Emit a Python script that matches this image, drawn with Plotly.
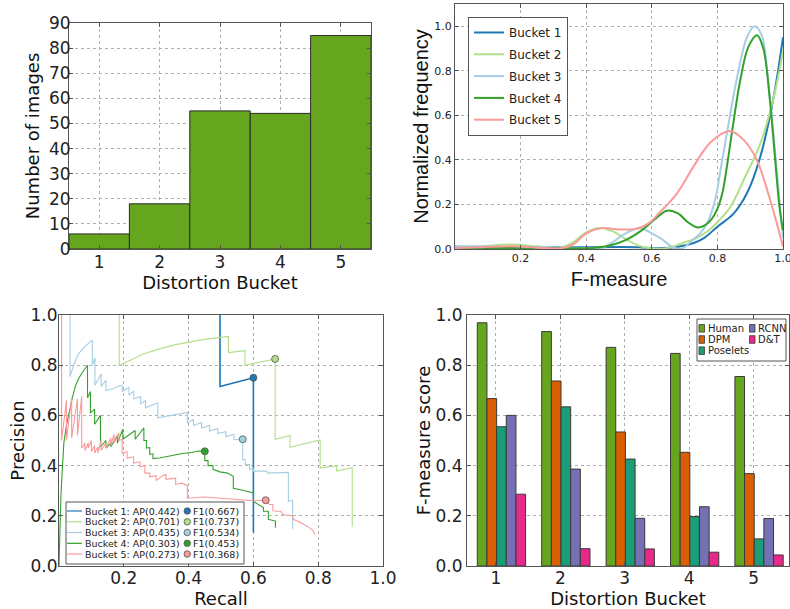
import plotly.graph_objects as go

W, H = 790, 609
def fx(p):
    return p / W
def fy(p):
    return 1 - p / H

# ---------------- data ----------------
# Panel 1: histogram of images per distortion bucket
buckets = [1, 2, 3, 4, 5]
bucket_labels = ["1", "2", "3", "4", "5"]
num_images = [6, 18, 55, 54, 85]

# Panel 2: normalized frequency of F-measure per bucket
kde_b1_x = [0.0, 0.1, 0.2, 0.3, 0.4, 0.5, 0.56, 0.62, 0.68, 0.73, 0.76, 0.80, 0.85, 0.89, 0.93, 0.97, 1.0]
kde_b1_y = [0.010, 0.009, 0.008, 0.008, 0.008, 0.009, 0.008, 0.003, 0.010, 0.028, 0.050, 0.100, 0.160, 0.250, 0.410, 0.670, 0.950]
kde_b2_x = [0.0, 0.08, 0.165, 0.25, 0.32, 0.36, 0.40, 0.44, 0.48, 0.52, 0.56, 0.60, 0.65, 0.70, 0.73, 0.77, 0.80, 0.84, 0.88, 0.93, 0.97, 1.0]
kde_b2_y = [0.010, 0.012, 0.020, 0.012, 0.005, 0.030, 0.075, 0.094, 0.080, 0.045, 0.015, 0.002, 0.005, 0.030, 0.045, 0.080, 0.120, 0.190, 0.310, 0.470, 0.670, 0.890]
kde_b3_x = [0.0, 0.2, 0.4, 0.45, 0.48, 0.52, 0.565, 0.60, 0.63, 0.66, 0.69, 0.72, 0.75, 0.77, 0.793, 0.81, 0.829, 0.86, 0.89, 0.913, 0.935, 0.955, 0.975, 0.99, 1.0]
kde_b3_y = [0.012, 0.010, 0.005, 0.005, 0.030, 0.070, 0.093, 0.070, 0.045, 0.012, 0.000, 0.035, 0.075, 0.120, 0.220, 0.360, 0.520, 0.770, 0.950, 1.000, 0.960, 0.750, 0.450, 0.200, 0.050]
kde_b4_x = [0.0, 0.2, 0.42, 0.47, 0.52, 0.57, 0.61, 0.646, 0.68, 0.71, 0.739, 0.76, 0.78, 0.80, 0.815, 0.83, 0.845, 0.87, 0.895, 0.921, 0.94, 0.96, 0.975, 0.99, 1.0]
kde_b4_y = [0.005, 0.005, 0.005, 0.015, 0.040, 0.085, 0.135, 0.172, 0.160, 0.120, 0.097, 0.105, 0.130, 0.180, 0.250, 0.380, 0.530, 0.760, 0.910, 0.960, 0.900, 0.670, 0.420, 0.180, 0.085]
kde_b5_x = [0.0, 0.08, 0.17, 0.25, 0.32, 0.36, 0.40, 0.448, 0.50, 0.55, 0.59, 0.626, 0.677, 0.727, 0.78, 0.837, 0.88, 0.92, 0.961, 1.0]
kde_b5_y = [0.005, 0.008, 0.012, 0.006, 0.003, 0.020, 0.070, 0.094, 0.088, 0.090, 0.115, 0.167, 0.250, 0.370, 0.480, 0.530, 0.490, 0.400, 0.220, 0.010]

# Panel 3: precision / recall per bucket
pr_b1_recall = [0.497, 0.497, 0.60, 0.60]
pr_b1_precision = [1.0, 0.715, 0.75, 0.133]
pr_b2_recall = [0.186, 0.186, 0.22, 0.26, 0.31, 0.36, 0.41, 0.46, 0.523, 0.523, 0.574, 0.574, 0.667, 0.667, 0.713, 0.713, 0.806, 0.806, 0.857, 0.857, 0.905, 0.905]
pr_b2_precision = [1.0, 0.80, 0.82, 0.845, 0.865, 0.882, 0.894, 0.905, 0.915, 0.85, 0.858, 0.80, 0.825, 0.505, 0.52, 0.473, 0.502, 0.39, 0.40, 0.378, 0.392, 0.157]
pr_b3_recall = [0.034, 0.034, 0.045, 0.06, 0.08, 0.103, 0.103, 0.111, 0.111, 0.123, 0.13, 0.13, 0.145, 0.145, 0.165, 0.18, 0.195,
                0.195, 0.216, 0.216, 0.231, 0.231, 0.252, 0.252, 0.267, 0.267, 0.298, 0.305, 0.305, 0.34, 0.37, 0.396,
                0.396, 0.415, 0.415, 0.44, 0.44, 0.465, 0.465, 0.49, 0.49, 0.515, 0.515, 0.54, 0.54, 0.567,
                0.567, 0.575, 0.575, 0.588, 0.588, 0.60, 0.60, 0.64, 0.645, 0.708, 0.708, 0.721, 0.721]
pr_b3_precision = [1.0, 0.755, 0.80, 0.845, 0.875, 0.90, 0.80, 0.83, 0.72, 0.745, 0.765, 0.715, 0.74, 0.70, 0.705, 0.715, 0.72,
                   0.695, 0.712, 0.68, 0.698, 0.665, 0.675, 0.645, 0.66, 0.63, 0.645, 0.65, 0.59, 0.598, 0.606, 0.612,
                   0.57, 0.585, 0.56, 0.572, 0.55, 0.56, 0.538, 0.548, 0.528, 0.535, 0.515, 0.525, 0.503, 0.505,
                   0.423, 0.425, 0.403, 0.405, 0.385, 0.388, 0.378, 0.378, 0.37, 0.373, 0.258, 0.262, 0.145]
pr_b4_recall = [0.0, 0.003, 0.006, 0.01, 0.015, 0.023, 0.031, 0.041, 0.051, 0.062, 0.072, 0.088,
                0.088, 0.097, 0.097, 0.11, 0.11, 0.128, 0.128, 0.145, 0.145, 0.16, 0.16, 0.18, 0.18, 0.197, 0.197,
                0.215, 0.235, 0.235, 0.262, 0.262, 0.27, 0.27, 0.28, 0.28, 0.29, 0.29, 0.31, 0.35, 0.38, 0.41, 0.43, 0.45,
                0.45, 0.46, 0.46, 0.475, 0.475, 0.497, 0.52, 0.538, 0.538, 0.574, 0.60, 0.60, 0.631, 0.631, 0.646, 0.646, 0.668, 0.668]
pr_b4_precision = [0.0, 0.15, 0.28, 0.38, 0.49, 0.56, 0.613, 0.67, 0.718, 0.75, 0.771, 0.80,
                   0.67, 0.695, 0.61, 0.625, 0.565, 0.60, 0.475, 0.50, 0.47, 0.49, 0.475, 0.52, 0.49, 0.545, 0.505,
                   0.52, 0.54, 0.505, 0.55, 0.50, 0.50, 0.47, 0.472, 0.445, 0.447, 0.428, 0.43, 0.44, 0.448, 0.452, 0.458, 0.457,
                   0.42, 0.42, 0.40, 0.40, 0.385, 0.375, 0.37, 0.357, 0.31, 0.30, 0.291, 0.257, 0.233, 0.218, 0.218, 0.186, 0.179, 0.152]
pr_b5_recall = [0.008, 0.008, 0.023, 0.023, 0.039, 0.039, 0.057, 0.057, 0.07, 0.07, 0.08, 0.08, 0.09, 0.09, 0.10, 0.10,
                0.11, 0.11, 0.12, 0.12, 0.13, 0.13, 0.145, 0.145, 0.16, 0.16, 0.17, 0.17, 0.185, 0.185, 0.195, 0.195,
                0.21, 0.21, 0.23, 0.23, 0.25, 0.25, 0.265, 0.265, 0.28, 0.28, 0.30, 0.30, 0.32, 0.33, 0.33, 0.36, 0.36,
                0.38, 0.396, 0.396, 0.45, 0.50, 0.55, 0.60, 0.638, 0.65, 0.66, 0.66, 0.685, 0.69, 0.72, 0.725, 0.75, 0.77, 0.785, 0.79]
pr_b5_precision = [1.0, 0.50, 0.66, 0.50, 0.67, 0.51, 0.665, 0.52, 0.675, 0.47, 0.49, 0.46, 0.49, 0.47, 0.50, 0.455,
                   0.48, 0.45, 0.475, 0.45, 0.50, 0.46, 0.49, 0.47, 0.51, 0.48, 0.525, 0.49, 0.53, 0.50, 0.505, 0.45,
                   0.455, 0.43, 0.435, 0.41, 0.415, 0.395, 0.40, 0.37, 0.37, 0.355, 0.36, 0.34, 0.36, 0.365, 0.345, 0.35, 0.325,
                   0.33, 0.32, 0.27, 0.275, 0.27, 0.265, 0.26, 0.262, 0.245, 0.245, 0.22, 0.217, 0.205, 0.20, 0.185, 0.17, 0.155, 0.14, 0.125]
f1_recall = [0.60, 0.667, 0.567, 0.45, 0.638]
f1_precision = [0.75, 0.825, 0.505, 0.457, 0.262]
ap_values = ["0.442", "0.701", "0.435", "0.303", "0.273"]
f1_values = ["0.667", "0.737", "0.534", "0.453", "0.368"]

# Panel 4: F-measure score per method and bucket
methods = ["Human", "DPM", "Poselets", "RCNN", "D&T"]
score_human = [0.969, 0.934, 0.871, 0.847, 0.755]
score_dpm = [0.667, 0.737, 0.534, 0.453, 0.368]
score_poselets = [0.555, 0.634, 0.426, 0.197, 0.108]
score_rcnn = [0.600, 0.386, 0.190, 0.236, 0.189]
score_dt = [0.286, 0.069, 0.068, 0.055, 0.044]

# ---------------- styles ----------------
FONT = "DejaVu Sans"
ARIAL = "Liberation Sans"
FRAME = "#555555"
GRID = "#b0b0b0"
bucket_colors = ["#1f78b4", "#b2df8a", "#a6cee3", "#33a02c", "#fb9a99"]
method_colors = ["#66a61e", "#d95f02", "#1b9e77", "#7570b3", "#e7298a"]

fig = go.Figure()

# Panel 1
fig.add_trace(go.Bar(x=buckets, y=num_images, width=1.0, marker=dict(color="#66a61e", line=dict(color="#2a2a2a", width=1)),
                     showlegend=False, xaxis="x", yaxis="y"))

# Panel 2
kde_xs = [kde_b1_x, kde_b2_x, kde_b3_x, kde_b4_x, kde_b5_x]
kde_ys = [kde_b1_y, kde_b2_y, kde_b3_y, kde_b4_y, kde_b5_y]
for i in range(5):
    fig.add_trace(go.Scatter(x=kde_xs[i], y=kde_ys[i], mode="lines", name="Bucket %d" % (i + 1),
                             line=dict(color=bucket_colors[i], width=2, shape="spline", smoothing=1.0),
                             legendgroup="g%d" % i, xaxis="x2", yaxis="y2", cliponaxis=True))

# Panel 3
pr_rs = [pr_b1_recall, pr_b2_recall, pr_b3_recall, pr_b4_recall, pr_b5_recall]
pr_ps = [pr_b1_precision, pr_b2_precision, pr_b3_precision, pr_b4_precision, pr_b5_precision]
for i in range(5):
    fig.add_trace(go.Scatter(x=pr_rs[i], y=pr_ps[i], mode="lines", showlegend=False,
                             line=dict(color=bucket_colors[i], width=1.6 if i == 0 else 1.1),
                             xaxis="x3", yaxis="y3"))
for i in range(5):
    fig.add_trace(go.Scatter(x=[f1_recall[i]], y=[f1_precision[i]], mode="markers", showlegend=False,
                             marker=dict(color=bucket_colors[i], size=7, line=dict(color="#555555", width=0.8)),
                             xaxis="x3", yaxis="y3"))

# Panel 4
scores = [score_human, score_dpm, score_poselets, score_rcnn, score_dt]
for k in range(5):
    fig.add_trace(go.Bar(x=buckets, y=scores[k], width=0.15, offset=-0.29 + 0.15 * k, name=methods[k],
                         marker=dict(color=method_colors[k], line=dict(color="#3a3a3a", width=1)),
                         showlegend=False, xaxis="x4", yaxis="y4"))

def axis(domain, anchor, rng, tickvals, ticktext, size, title, tfont, tsize, standoff, lstand):
    return dict(domain=domain, anchor=anchor, range=rng, tickvals=tickvals, ticktext=ticktext,
                tickfont=dict(family=FONT, size=size, color="#222"), ticklabelstandoff=lstand,
                ticklabeloverflow="allow",
                title=dict(text=title, font=dict(family=tfont, size=tsize, color="#111"), standoff=standoff),
                showline=True, mirror="ticks", linecolor=FRAME, linewidth=1,
                ticks="inside", ticklen=4, tickcolor=FRAME,
                showgrid=True, gridcolor=GRID, griddash="dot", gridwidth=1,
                zeroline=False, automargin=False, fixedrange=True)

p1x = [fx(69), fx(371)]; p1y = [fy(249), fy(23)]
p2x = [fx(455), fx(783)]; p2y = [fy(249), fy(4)]
p3x = [fx(59), fx(383)]; p3y = [fy(566), fy(315)]
p4x = [fx(467), fx(789)]; p4y = [fy(566), fy(315)]

dec = [0.0, 0.2, 0.4, 0.6, 0.8, 1.0]
dec_t = ["0.0", "0.2", "0.4", "0.6", "0.8", "1.0"]
xdec = [0.2, 0.4, 0.6, 0.8, 1.0]
xdec_t = ["0.2", "0.4", "0.6", "0.8", "1.0"]
yt1 = list(range(0, 100, 10))

fig.update_layout(
    width=W, height=H, margin=dict(l=0, r=0, t=0, b=0),
    paper_bgcolor="white", plot_bgcolor="white", barmode="overlay",
    font=dict(family=FONT, color="#222"),
    xaxis=axis(p1x, "y", [0.5, 5.5], buckets, bucket_labels, 17, "Distortion Bucket", FONT, 18, 1, -2),
    yaxis=axis(p1y, "x", [0, 90], yt1, [str(v) for v in yt1], 17, "Number of images", FONT, 18, 4, -6),
    xaxis2=axis(p2x, "y2", [0, 1], xdec, xdec_t, 11, "F-measure", ARIAL, 20, 7, -1),
    yaxis2=axis(p2y, "x2", [0, 1.1], dec, dec_t, 11, "Normalized frequency", ARIAL, 20, 0, 0),
    xaxis3=axis(p3x, "y3", [0, 1], xdec, xdec_t, 17, "Recall", FONT, 18, 0, -3),
    yaxis3=axis(p3y, "x3", [0, 1], dec, dec_t, 17, "Precision", FONT, 18, 1, -3),
    xaxis4=axis(p4x, "y4", [0.55, 5.55], buckets, bucket_labels, 17, "Distortion Bucket", FONT, 18, 4, -3),
    yaxis4=axis(p4y, "x4", [0, 1], dec, dec_t, 17, "F-measure score", FONT, 18, 0, 0),
    legend=dict(x=fx(468), y=fy(17), xanchor="left", yanchor="top", bgcolor="white",
                bordercolor=FRAME, borderwidth=1, font=dict(family=FONT, size=12, color="#222"),
                tracegroupgap=2.8, itemwidth=30),
)

# Compact legend for the precision/recall panel
shapes = []
annotations = []
shapes.append(dict(type="rect", xref="paper", yref="paper", x0=fx(66), x1=fx(244), y0=fy(564), y1=fy(502),
                   line=dict(color=FRAME, width=1), fillcolor="white", layer="above"))
rows = [511, 521.8, 532.5, 543.3, 554]
for i in range(5):
    shapes.append(dict(type="line", xref="paper", yref="paper", x0=fx(67), x1=fx(82), y0=fy(rows[i]), y1=fy(rows[i]),
                       line=dict(color=bucket_colors[i], width=1.2), layer="above"))
    shapes.append(dict(type="circle", xref="paper", yref="paper", x0=fx(184), x1=fx(190.5),
                       y0=fy(rows[i] + 3.25), y1=fy(rows[i] - 3.25),
                       line=dict(color="#555555", width=0.8), fillcolor=bucket_colors[i], layer="above"))
    annotations.append(dict(xref="paper", yref="paper", x=fx(83.5), y=fy(rows[i]), xanchor="left", yanchor="middle",
                            text="Bucket %d: AP(%s)" % (i + 1, ap_values[i]), showarrow=False,
                            font=dict(family=FONT, size=9.5, color="#222"), borderpad=0))
    annotations.append(dict(xref="paper", yref="paper", x=fx(192), y=fy(rows[i]), xanchor="left", yanchor="middle",
                            text="F1(%s)" % f1_values[i], showarrow=False,
                            font=dict(family=FONT, size=9.5, color="#222"), borderpad=0))

# Compact two-column legend for the method bar panel
shapes.append(dict(type="rect", xref="paper", yref="paper", x0=fx(697), x1=fx(786), y0=fy(361), y1=fy(319),
                   line=dict(color=FRAME, width=1), fillcolor="white", layer="above"))
leg_pos = [(699, 328.3), (699, 339.5), (699, 350.7), (749.5, 328.3), (749.5, 339.5)]
for k in range(5):
    x0, yc = leg_pos[k]
    shapes.append(dict(type="rect", xref="paper", yref="paper", x0=fx(x0), x1=fx(x0 + 5.5),
                       y0=fy(yc + 3.8), y1=fy(yc - 3.8), line=dict(color="#3a3a3a", width=0.8),
                       fillcolor=method_colors[k], layer="above"))
    annotations.append(dict(xref="paper", yref="paper", x=fx(x0 + 7.5), y=fy(yc), xanchor="left", yanchor="middle",
                            text=methods[k].replace("&", "&amp;"), showarrow=False,
                            font=dict(family=FONT, size=10, color="#222"), borderpad=0))

fig.update_layout(shapes=shapes, annotations=annotations)
fig.write_html("out.html", config=dict(displayModeBar=False),
               post_script="document.body.style.margin='0px';")
